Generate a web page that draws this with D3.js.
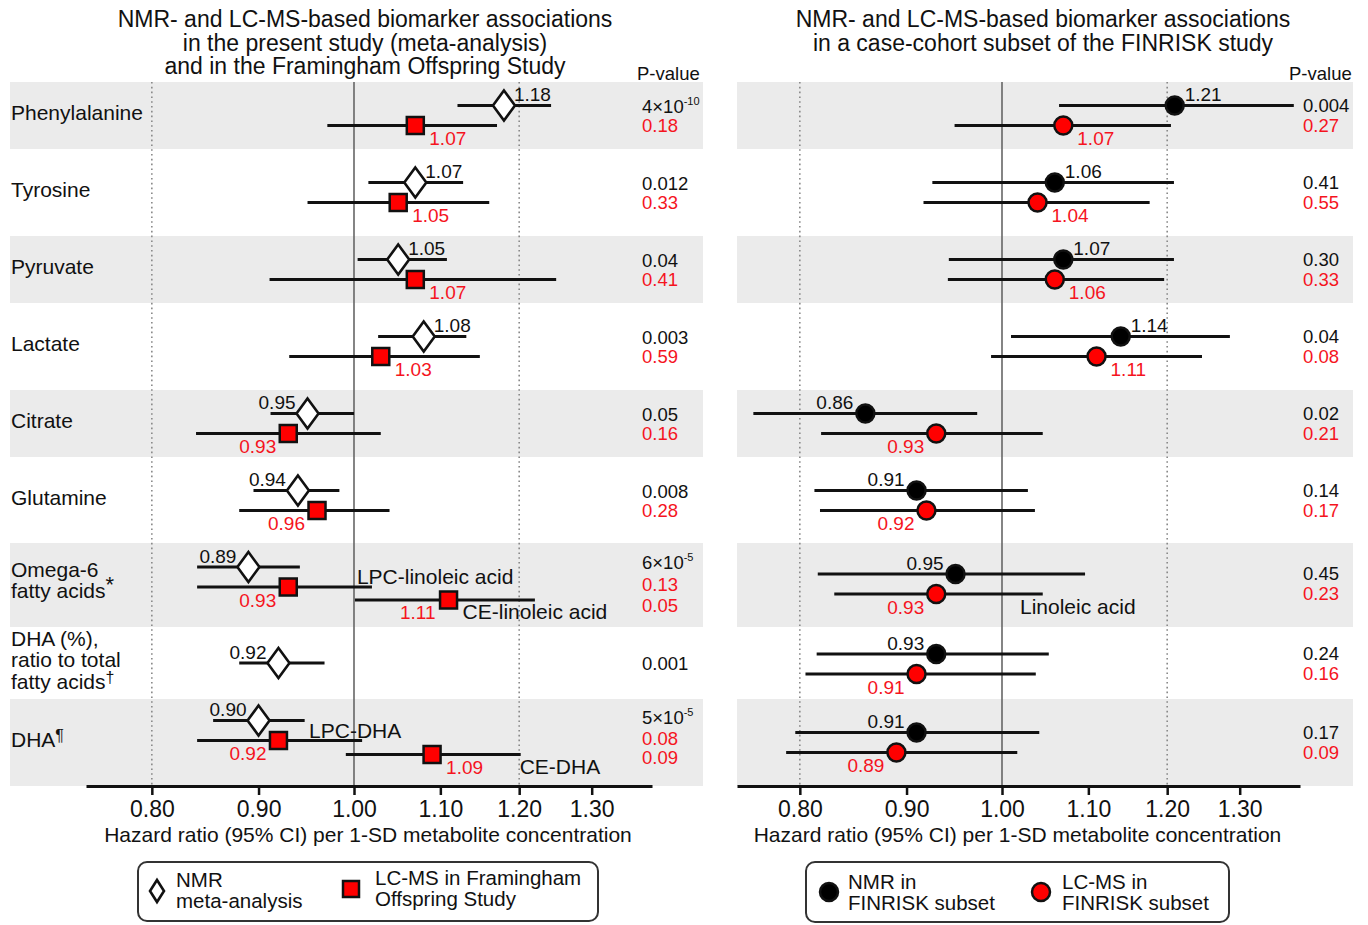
<!DOCTYPE html>
<html>
<head>
<meta charset="utf-8">
<script src="https://cdn.jsdelivr.net/npm/d3@7"></script>
<style>
  html, body { margin: 0; padding: 0; background: #fff; }
  svg text { font-family: "Liberation Sans", Arial, Helvetica, sans-serif; }
</style>
</head>
<body>
<svg id="chart" width="1368" height="925"></svg>
<script>
// ---------------- DATA ----------------
const rowLabels = [
  ["Phenylalanine"], ["Tyrosine"], ["Pyruvate"], ["Lactate"], ["Citrate"], ["Glutamine"],
  ["Omega-6", "fatty acids*"], ["DHA (%),", "ratio to total", "fatty acids†"], ["DHA¶"]
];
const tickValues = [0.80, 0.90, 1.00, 1.10, 1.20, 1.30];
const tickLabels = ["0.80", "0.90", "1.00", "1.10", "1.20", "1.30"];

// Left panel: NMR meta-analysis
const nmrMeta   = [1.18, 1.07, 1.05, 1.08, 0.95, 0.94, 0.89, 0.92, 0.90];
const nmrMetaLo = [1.121, 1.016, 1.004, 1.027, 0.912, 0.895, 0.841, 0.881, 0.856];
const nmrMetaHi = [1.243, 1.128, 1.108, 1.132, 1.000, 0.984, 0.942, 0.968, 0.947];
const nmrMetaP  = ["4×10^-10", "0.012", "0.04", "0.003", "0.05", "0.008", "6×10^-5", "0.001", "5×10^-5"];

// Left panel: LC-MS in Framingham Offspring Study (LPC for rows 6 and 8)
const lcFos   = [1.07, 1.05, 1.07, 1.03, 0.93, 0.96, 0.93, null, 0.92];
const lcFosLo = [0.971, 0.950, 0.911, 0.931, 0.840, 0.881, 0.841, null, 0.841];
const lcFosHi = [1.171, 1.161, 1.250, 1.149, 1.030, 1.040, 1.020, null, 1.009];
const lcFosP  = ["0.18", "0.33", "0.41", "0.59", "0.16", "0.28", "0.13", null, "0.08"];
const lcFosName = [null, null, null, null, null, null, "LPC-linoleic acid", null, "LPC-DHA"];

// Left panel: LC-MS cholesteryl esters
const ceFos   = [null, null, null, null, null, null, 1.11, null, 1.09];
const ceFosLo = [null, null, null, null, null, null, 1.001, null, 0.991];
const ceFosHi = [null, null, null, null, null, null, 1.221, null, 1.202];
const ceFosP  = [null, null, null, null, null, null, "0.05", null, "0.09"];
const ceFosName = [null, null, null, null, null, null, "CE-linoleic acid", null, "CE-DHA"];

// Right panel: NMR in FINRISK subset
const finNmr   = [1.21, 1.06, 1.07, 1.14, 0.86, 0.91, 0.95, 0.93, 0.91];
const finNmrLo = [1.065, 0.926, 0.943, 1.010, 0.760, 0.813, 0.816, 0.815, 0.796];
const finNmrHi = [1.380, 1.209, 1.209, 1.286, 0.973, 1.029, 1.096, 1.053, 1.042];
const finNmrP  = ["0.004", "0.41", "0.30", "0.04", "0.02", "0.14", "0.45", "0.24", "0.17"];

// Right panel: LC-MS in FINRISK subset
const finLc   = [1.07, 1.04, 1.06, 1.11, 0.93, 0.92, 0.93, 0.91, 0.89];
const finLcLo = [0.949, 0.917, 0.942, 0.988, 0.819, 0.818, 0.831, 0.805, 0.788];
const finLcHi = [1.205, 1.177, 1.196, 1.247, 1.046, 1.037, 1.046, 1.038, 1.017];
const finLcP  = ["0.27", "0.55", "0.33", "0.08", "0.21", "0.17", "0.23", "0.16", "0.09"];
const finLcName = [null, null, null, null, null, null, "Linoleic acid", null, null];

// ---------------- LAYOUT ----------------
const RED = "#ff0000", RED_TXT = "#f5141e";
const FS = { title: 23, row: 21, val: 19, p: 18.5, pHead: 18.5, tick: 23, axisTitle: 21, legend: 20.5, note: 21 };
const slotEdges = [77, 154, 231, 308, 385, 462, 539, 627, 699, 786];
const center = i => (slotEdges[i] + slotEdges[i + 1]) / 2;
const offLeft = {
  nmr: [-10, -10, -10, -10, -10, -10, -16, 0, -22],
  lc:  [10, 10, 10, 10, 10, 10, 4, 0, -2],
  ce:  [0, 0, 0, 0, 0, 0, 17, 0, 12]
};
const offRight = {
  nmr: [-10, -10, -10, -10, -10, -10, -9, -9, -10],
  lc:  [10, 10, 10, 10, 10, 10, 11, 11, 10]
};

const svg = d3.select("#chart");
const AXIS_Y = 786, PLOT_TOP = 82;

const panels = [
  { x0: 10, x1: 703, range: [86, 652], one: 354, pX: 642, pHead: 637, titleX: 365,
    title: ["NMR- and LC-MS-based biomarker associations", "in the present study (meta-analysis)", "and in the Framingham Offspring Study"] },
  { x0: 737, x1: 1353, range: [737, 1300], one: 1002, pX: 1303, pHead: 1289, titleX: 1043,
    title: ["NMR- and LC-MS-based biomarker associations", "in a case-cohort subset of the FINRISK study"] }
];
const K = 906; // px per log unit
panels.forEach(p => {
  const lo = Math.exp((p.range[0] - p.one) / K), hi = Math.exp((p.range[1] - p.one) / K);
  p.x = d3.scaleLog().domain([lo, hi]).range(p.range);
});

function drawPanel(p, idx) {
  const g = svg.append("g");
  rowLabels.forEach((_, i) => {
    if (i % 2 !== 0) return;
    const top = slotEdges[i] + (i === 8 ? 0 : (i === 6 ? 4 : 5));
    const bot = slotEdges[i + 1] - (i >= 6 ? 0 : 5);
    g.append("rect").attr("x", p.x0).attr("y", top).attr("width", p.x1 - p.x0)
      .attr("height", bot - top).attr("fill", "#ebebeb");
  });
  p.title.forEach((t, k) => {
    g.append("text").attr("x", p.titleX).attr("y", 19 + 23.5 * k).attr("dy", "0.35em")
      .attr("text-anchor", "middle").attr("font-size", FS.title).attr("fill", "#111").text(t);
  });
  g.append("text").attr("x", p.pHead).attr("y", 74).attr("dy", "0.35em")
    .attr("font-size", FS.pHead).attr("fill", "#111").text("P-value");
  [0.8, 1.2].forEach(v => {
    g.append("line").attr("x1", p.x(v)).attr("x2", p.x(v)).attr("y1", PLOT_TOP).attr("y2", AXIS_Y)
      .attr("stroke", "#888").attr("stroke-width", 1.6).attr("stroke-dasharray", "1.6,3.2");
  });
  g.append("line").attr("x1", p.x(1)).attr("x2", p.x(1)).attr("y1", PLOT_TOP).attr("y2", AXIS_Y)
    .attr("stroke", "#666").attr("stroke-width", 1.6);
  const axis = d3.axisBottom(p.x).tickValues(tickValues)
    .tickFormat((d, i) => tickLabels[i]).tickSize(9).tickSizeOuter(0);
  const ag = g.append("g").attr("transform", `translate(0,${AXIS_Y})`).call(axis);
  ag.select(".domain").attr("stroke", "#111").attr("stroke-width", 3);
  ag.selectAll(".tick line").attr("stroke", "#111").attr("stroke-width", 2.5);
  ag.selectAll(".tick text").attr("font-size", FS.tick).attr("fill", "#111").attr("y", 15)
    .attr("font-family", "Liberation Sans, Arial, sans-serif");
  g.append("text").attr("x", (p.range[0] + p.range[1]) / 2 - 1).attr("y", 835).attr("dy", "0.35em")
    .attr("text-anchor", "middle").attr("font-size", FS.axisTitle).attr("fill", "#111")
    .text("Hazard ratio (95% CI) per 1-SD metabolite concentration");
  return g;
}

function pText(g, x, y, s, color) {
  if (s == null) return;
  const t = g.append("text").attr("x", x).attr("y", y).attr("dy", "0.35em")
    .attr("font-size", FS.p).attr("fill", color);
  const m = s.split("^");
  t.append("tspan").text(m[0]);
  if (m[1]) t.append("tspan").attr("dy", -8).attr("font-size", 11).text(m[1]);
}

function ciLine(g, x, lo, hi, y) {
  g.append("line").attr("x1", x(lo)).attr("x2", x(hi)).attr("y1", y).attr("y2", y)
    .attr("stroke", "#111").attr("stroke-width", 2.8);
}
function diamond(g, cx, cy, w, h) {
  g.append("path").attr("d", `M${cx},${cy - h}L${cx + w},${cy}L${cx},${cy + h}L${cx - w},${cy}Z`)
    .attr("fill", "#fff").attr("stroke", "#111").attr("stroke-width", 2.6).attr("stroke-linejoin", "miter");
}
function square(g, cx, cy, s) {
  g.append("rect").attr("x", cx - s / 2).attr("y", cy - s / 2).attr("width", s).attr("height", s)
    .attr("fill", RED).attr("stroke", "#111").attr("stroke-width", 2.5);
}
function circle(g, cx, cy, r, fill) {
  g.append("circle").attr("cx", cx).attr("cy", cy).attr("r", r)
    .attr("fill", fill).attr("stroke", "#111").attr("stroke-width", 2.5);
}
function valLabel(g, xPos, y, v, above, color) {
  const right = v >= 1;
  g.append("text")
    .attr("x", right ? xPos + (above ? 10 : 14) : xPos - 12)
    .attr("y", above ? y - 11 : y + 13).attr("dy", "0.35em")
    .attr("text-anchor", right ? "start" : "end")
    .attr("font-size", FS.val).attr("fill", color).text(v.toFixed(2));
}

// ---------------- LEFT PANEL ----------------
const L = panels[0];
const gL = drawPanel(L, 0);
rowLabels.forEach((lines, i) => {
  const c = center(i) - 3;
  const n = lines.length;
  lines.forEach((ln, k) => {
    const y = c + (k - (n - 1) / 2) * 21.5;
    const t = gL.append("text").attr("x", 11).attr("y", y).attr("dy", "0.35em")
      .attr("font-size", FS.row).attr("fill", "#111");
    const last = ln.slice(-1);
    if ("*†¶".includes(last)) {
      t.append("tspan").text(ln.slice(0, -1));
      t.append("tspan").attr("dy", -6).attr("font-size", last === "*" ? 22 : 16).text(last);
    } else t.text(ln);
  });
});
rowLabels.forEach((_, i) => {
  const c = center(i);
  const yN = c + offLeft.nmr[i];
  ciLine(gL, L.x, nmrMetaLo[i], nmrMetaHi[i], yN);
  diamond(gL, L.x(nmrMeta[i]), yN, 11, 15);
  valLabel(gL, L.x(nmrMeta[i]), yN, nmrMeta[i], true, "#111");
  pText(gL, L.pX, yN + (i === 6 ? -4 : (i === 8 ? -3 : 1)), nmrMetaP[i], "#111");
  if (lcFos[i] != null) {
    const yL = c + offLeft.lc[i];
    ciLine(gL, L.x, lcFosLo[i], lcFosHi[i], yL);
    square(gL, L.x(lcFos[i]), yL, 17);
    valLabel(gL, L.x(lcFos[i]), yL, lcFos[i], false, RED_TXT);
    pText(gL, L.pX, yL + (i >= 6 ? -2 : 0), lcFosP[i], RED_TXT);
    if (lcFosName[i]) {
      gL.append("text").attr("x", L.x(lcFosHi[i]) + (i === 6 ? -15 : -53)).attr("y", yL - 10).attr("dy", "0.35em")
        .attr("font-size", FS.note).attr("fill", "#111").text(lcFosName[i]);
    }
  }
  if (ceFos[i] != null) {
    const yC = c + offLeft.ce[i];
    ciLine(gL, L.x, ceFosLo[i], ceFosHi[i], yC);
    square(gL, L.x(ceFos[i]), yC, 17);
    const cx = L.x(ceFos[i]);
    if (i === 6) {
      gL.append("text").attr("x", cx - 13).attr("y", yC + 12).attr("dy", "0.35em").attr("text-anchor", "end")
        .attr("font-size", FS.val).attr("fill", RED_TXT).text(ceFos[i].toFixed(2));
      gL.append("text").attr("x", cx + 14).attr("y", yC + 12).attr("dy", "0.35em")
        .attr("font-size", FS.note).attr("fill", "#111").text(ceFosName[i]);
    } else {
      valLabel(gL, cx, yC, ceFos[i], false, RED_TXT);
      gL.append("text").attr("x", L.x(ceFosHi[i]) - 1).attr("y", yC + 12).attr("dy", "0.35em")
        .attr("font-size", FS.note).attr("fill", "#111").text(ceFosName[i]);
    }
    pText(gL, L.pX, yC + (i === 6 ? 6 : 3), ceFosP[i], RED_TXT);
  }
});

// ---------------- RIGHT PANEL ----------------
const R = panels[1];
const gR = drawPanel(R, 1);
rowLabels.forEach((_, i) => {
  const c = center(i);
  const yN = c + offRight.nmr[i];
  ciLine(gR, R.x, finNmrLo[i], finNmrHi[i], yN);
  circle(gR, R.x(finNmr[i]), yN, 9, "#000");
  valLabel(gR, R.x(finNmr[i]), yN, finNmr[i], true, "#111");
  pText(gR, R.pX, yN, finNmrP[i], "#111");
  const yL = c + offRight.lc[i];
  ciLine(gR, R.x, finLcLo[i], finLcHi[i], yL);
  circle(gR, R.x(finLc[i]), yL, 9, RED);
  valLabel(gR, R.x(finLc[i]), yL, finLc[i], false, RED_TXT);
  pText(gR, R.pX, yL, finLcP[i], RED_TXT);
  if (finLcName[i]) {
    gR.append("text").attr("x", R.x(1) + 18).attr("y", yL + 13).attr("dy", "0.35em")
      .attr("font-size", FS.note).attr("fill", "#111").text(finLcName[i]);
  }
});

// ---------------- LEGENDS ----------------
function legendBox(x, y, w, h) {
  svg.append("rect").attr("x", x).attr("y", y).attr("width", w).attr("height", h).attr("rx", 9)
    .attr("fill", "#fff").attr("stroke", "#333").attr("stroke-width", 2);
}
function legendText(x, y, lines) {
  lines.forEach((t, k) => svg.append("text").attr("x", x).attr("y", y + k * 21).attr("dy", "0.35em")
    .attr("font-size", FS.legend).attr("fill", "#111").text(t));
}
legendBox(138, 862, 460, 59);
diamond(svg, 157, 891, 7, 11);
legendText(176, 880, ["NMR", "meta-analysis"]);
square(svg, 351, 889, 16);
legendText(375, 878, ["LC-MS in Framingham", "Offspring Study"]);

legendBox(806, 862, 423, 60);
circle(svg, 829, 892, 9, "#000");
legendText(848, 882, ["NMR in", "FINRISK subset"]);
circle(svg, 1041, 892, 9, RED);
legendText(1062, 882, ["LC-MS in", "FINRISK subset"]);
</script>
</body>
</html>
